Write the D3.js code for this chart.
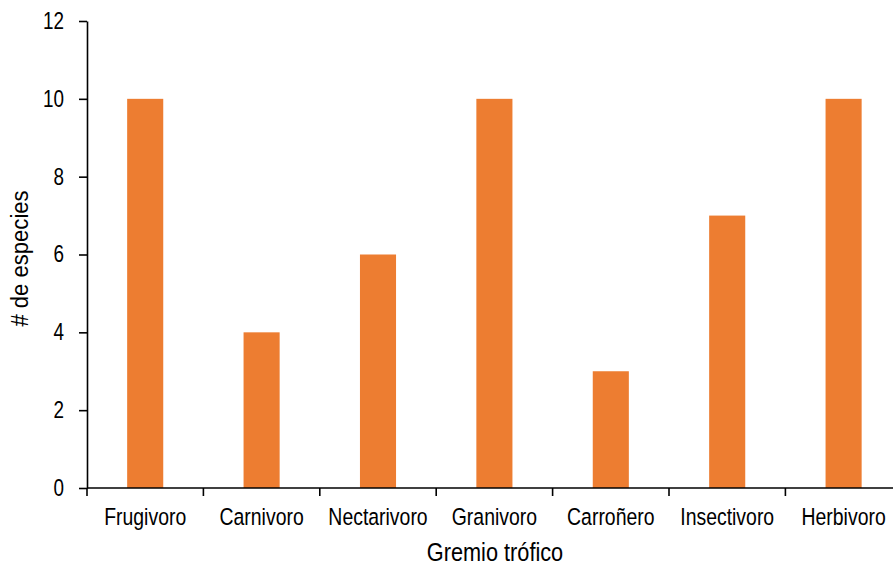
<!DOCTYPE html>
<html><head><meta charset="utf-8">
<script src="https://cdn.jsdelivr.net/npm/d3@7"></script>
<style>body{margin:0;background:#fff}svg{display:block}text{font-family:"Liberation Sans",Arial,sans-serif;fill:#000}</style>
</head><body>
<svg id="c" width="893" height="566"></svg>
<script>
const categories = ["Frugivoro","Carnivoro","Nectarivoro","Granivoro","Carroñero","Insectivoro","Herbivoro"];
const values = [10,4,6,10,3,7,10];
const yTicks = [0,2,4,6,8,10,12];
const xTitle = "Gremio trófico";
const yTitle = "# de especies";

const svg = d3.select("#c");
const NARROW = 0.82;
const x = d3.scaleBand().domain(categories).range([87, 901.8]).paddingInner(0.69).paddingOuter(0.345);
const y = d3.scaleLinear().domain([0,12]).range([488, 21]);

// bars
svg.append("g").selectAll("rect").data(categories).join("rect")
  .attr("x", d => x(d)).attr("width", x.bandwidth())
  .attr("y", (d,i) => y(values[i])).attr("height", (d,i) => y(0) - y(values[i]))
  .attr("fill", "#ED7D31");

// y axis
const yAxis = svg.append("g").attr("transform", "translate(87,0)")
  .call(d3.axisLeft(y).tickValues(yTicks).tickSize(8).tickSizeOuter(0).tickFormat(d3.format("d")));
yAxis.selectAll("path,line").attr("stroke", "#000").attr("stroke-width", 1.6);
yAxis.selectAll("text").attr("font-size", 23).attr("font-family", "Liberation Sans, Arial, sans-serif")
  .attr("x", -23 / NARROW).attr("transform", `scale(${NARROW},1)`).attr("fill", "#000");

// x axis line with boundary ticks
const step = x.step();
const x0 = x.range()[0];
const gx = svg.append("g");
gx.append("line").attr("x1", x0).attr("x2", x.range()[1]).attr("y1", y(0)).attr("y2", y(0))
  .attr("stroke", "#000").attr("stroke-width", 1.6);
gx.selectAll("line.tk").data(d3.range(categories.length + 1)).join("line").attr("class","tk")
  .attr("x1", i => x0 + i * step).attr("x2", i => x0 + i * step)
  .attr("y1", y(0)).attr("y2", y(0) + 8).attr("stroke", "#000").attr("stroke-width", 1.6);
gx.selectAll("g.lbl").data(categories).join("g").attr("class","lbl")
  .attr("transform", d => `translate(${x(d) + x.bandwidth()/2},525)`)
  .append("text").attr("text-anchor","middle").attr("font-size", 23.7)
  .attr("transform", `scale(${NARROW},1)`).text(d => d);

// titles
svg.append("g").attr("transform", "translate(495,561)")
  .append("text").attr("text-anchor","middle").attr("font-size", 26.5)
  .attr("transform", "scale(0.82,1)").text(xTitle);
svg.append("g").attr("transform", "translate(28,258.5) rotate(-90)")
  .append("text").attr("text-anchor","middle").attr("font-size", 24)
  .attr("transform", "scale(0.92,1)").text(yTitle);
</script>
</body></html>
